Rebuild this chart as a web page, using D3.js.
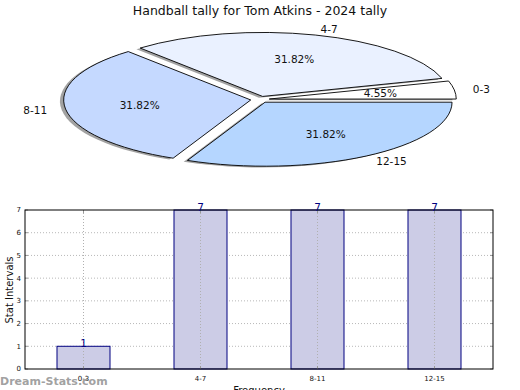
<!DOCTYPE html>
<html>
<head>
<meta charset="utf-8">
<script src="https://cdn.jsdelivr.net/npm/d3@7"></script>
<style>
  body { margin: 0; background: #fff; }
  svg { display: block; font-family: "DejaVu Sans", sans-serif; }
</style>
</head>
<body>
<div class="chart"></div>
<script>
const categories = ["0-3", "4-7", "8-11", "12-15"];
const counts = [1, 7, 7, 7];
const sliceColors = ["#ffffff", "#eaf1ff", "#c5d9ff", "#b5d6ff"];
const yTicks = [0, 1, 2, 3, 4, 5, 6, 7];

const W = 520, H = 390;
let svg = d3.select(".chart").append("svg")
    .attr("width", W)
    .attr("height", H);

/************* pie ***********/
svg.append("text")
    .attr("x", 260).attr("y", 15)
    .attr("text-anchor", "middle")
    .attr("font-size", 12.5)
    .attr("fill", "#111")
    .text("Handball tally for Tom Atkins - 2024 tally");

let cx = 260, cy = 99.5, rx = 187, ry = 64;
let explode = 0.05;

// matplotlib style: start at east, counterclockwise
let pie = d3.pie().sort(null)
    .startAngle(Math.PI / 2)
    .endAngle(Math.PI / 2 - 2 * Math.PI);
let arcs = pie(counts);
let total = d3.sum(counts);

let arc = d3.arc().innerRadius(0).outerRadius(1);

let pieG = svg.append("g")
    .attr("transform", "translate(" + cx + "," + cy + ") scale(" + rx + "," + ry + ")");

arcs.forEach((d, i) => {
    let mid = (d.startAngle + d.endAngle) / 2;
    let ox = explode * Math.sin(mid), oy = -explode * Math.cos(mid);
    // shadow
    pieG.append("path")
        .attr("d", arc(d))
        .attr("transform", "translate(" + (ox - 0.02) + "," + (oy + 0.02) + ")")
        .attr("fill", "#555")
        .attr("fill-opacity", 0.55);
});

arcs.forEach((d, i) => {
    let mid = (d.startAngle + d.endAngle) / 2;
    let ox = explode * Math.sin(mid), oy = -explode * Math.cos(mid);
    pieG.append("path")
        .attr("d", arc(d))
        .attr("transform", "translate(" + ox + "," + oy + ")")
        .attr("fill", sliceColors[i])
        .attr("stroke", "#000")
        .attr("stroke-width", 0.9)
        .attr("vector-effect", "non-scaling-stroke");
});

arcs.forEach((d, i) => {
    let mid = (d.startAngle + d.endAngle) / 2;
    let sx = Math.sin(mid), sy = -Math.cos(mid);
    let bx = cx + explode * rx * sx, by = cy + explode * ry * sy;
    svg.append("text")
        .attr("x", bx + 1.1 * rx * sx)
        .attr("y", by + 1.1 * ry * sy)
        .attr("dy", "0.35em")
        .attr("text-anchor", sx >= 0 ? "start" : "end")
        .attr("font-size", 10.5)
        .attr("fill", "#111")
        .text(categories[i]);
    svg.append("text")
        .attr("x", bx + 0.6 * rx * sx)
        .attr("y", by + 0.6 * ry * sy)
        .attr("dy", "0.35em")
        .attr("text-anchor", "middle")
        .attr("font-size", 10.5)
        .attr("fill", "#111")
        .text((counts[i] / total * 100).toFixed(2) + "%");
});

/************* bar chart ***********/
let margin = {top: 210, left: 25},
    width = 468, height = 159;

let x = d3.scaleBand()
    .domain(categories)
    .range([0, width])
    .paddingInner(0.547)
    .paddingOuter(0.2735);

let y = d3.scaleLinear()
    .domain([0, 7])
    .range([height, 0]);

let g = svg.append("g")
    .attr("transform", "translate(" + margin.left + "," + margin.top + ")");

// grid
g.selectAll(".hgrid")
    .data(yTicks.filter(t => t > 0 && t < 7))
    .enter().append("line")
    .attr("x1", 0).attr("x2", width)
    .attr("y1", d => y(d)).attr("y2", d => y(d))
    .attr("stroke", "#b8b8b8")
    .attr("stroke-dasharray", "1,2");

// bars
g.selectAll(".bar")
    .data(counts)
    .enter().append("rect")
    .attr("x", (d, i) => x(categories[i]))
    .attr("width", x.bandwidth())
    .attr("y", d => y(d))
    .attr("height", d => height - y(d))
    .attr("fill", "#ccccE6")
    .attr("stroke", "#000080")
    .attr("stroke-width", 1);

g.selectAll(".vgrid")
    .data(categories)
    .enter().append("line")
    .attr("x1", d => x(d) + x.bandwidth() / 2).attr("x2", d => x(d) + x.bandwidth() / 2)
    .attr("y1", 0).attr("y2", height)
    .attr("stroke", "#b0b0b0")
    .attr("stroke-dasharray", "1,2");

// inward ticks
yTicks.forEach(t => {
    g.append("line").attr("x1", 0).attr("x2", 3).attr("y1", y(t)).attr("y2", y(t))
        .attr("stroke", "#999");
    g.append("line").attr("x1", width - 3).attr("x2", width).attr("y1", y(t)).attr("y2", y(t))
        .attr("stroke", "#999");
});
categories.forEach(c => {
    let cxp = x(c) + x.bandwidth() / 2;
    g.append("line").attr("x1", cxp).attr("x2", cxp).attr("y1", height - 3).attr("y2", height)
        .attr("stroke", "#999");
    g.append("line").attr("x1", cxp).attr("x2", cxp).attr("y1", 0).attr("y2", 3)
        .attr("stroke", "#999");
});

// frame
g.append("rect")
    .attr("x", 0).attr("y", 0)
    .attr("width", width).attr("height", height)
    .attr("fill", "none")
    .attr("stroke", "#000")
    .attr("stroke-width", 1);

// tick labels
g.selectAll(".ylab")
    .data(yTicks)
    .enter().append("text")
    .attr("x", -4)
    .attr("y", d => y(d))
    .attr("dy", "0.35em")
    .attr("text-anchor", "end")
    .attr("font-size", 7)
    .attr("fill", "#111")
    .text(d => d);

g.selectAll(".xlab")
    .data(categories)
    .enter().append("text")
    .attr("x", d => x(d) + x.bandwidth() / 2)
    .attr("y", height + 12)
    .attr("text-anchor", "middle")
    .attr("font-size", 7)
    .attr("fill", "#111")
    .text(d => d);

// value labels
g.selectAll(".val")
    .data(counts)
    .enter().append("text")
    .attr("x", (d, i) => x(categories[i]) + x.bandwidth() / 2)
    .attr("y", d => y(d) + 1)
    .attr("text-anchor", "middle")
    .attr("font-size", 10.5)
    .attr("fill", "#000080")
    .text(d => d);

// axis titles
svg.append("text")
    .attr("transform", "translate(13,290) rotate(-90)")
    .attr("text-anchor", "middle")
    .attr("font-size", 10)
    .attr("fill", "#111")
    .text("Stat Intervals");

svg.append("text")
    .attr("x", 259).attr("y", 394)
    .attr("text-anchor", "middle")
    .attr("font-size", 10)
    .attr("fill", "#111")
    .text("Frequency");

// watermark
svg.append("text")
    .attr("x", 0).attr("y", 385)
    .attr("font-size", 11)
    .attr("font-weight", "bold")
    .attr("fill", "#888")
    .attr("fill-opacity", 0.8)
    .text("Dream-Stats.com");
</script>
</body>
</html>
